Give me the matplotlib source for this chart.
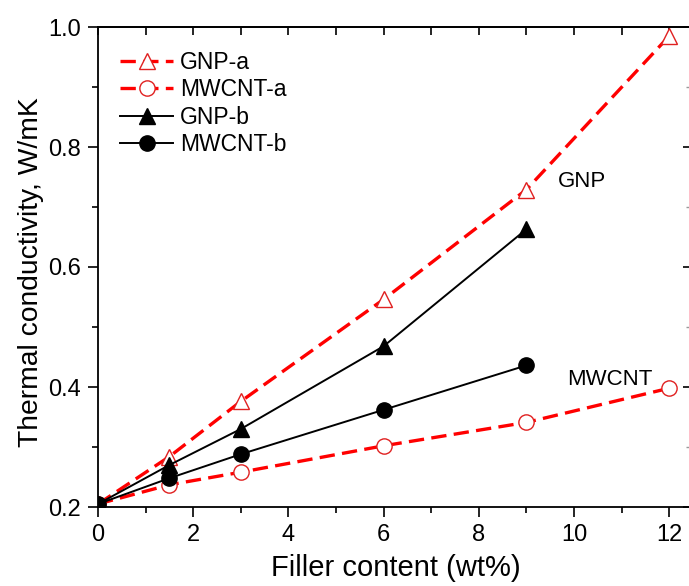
import matplotlib
matplotlib.use("Agg")
import matplotlib.pyplot as plt
from matplotlib.ticker import MultipleLocator

plt.rcParams['font.family'] = ['Liberation Sans', 'DejaVu Sans']

x_a = [0, 1.5, 3, 6, 9, 12]
gnp_a = [0.205, 0.284, 0.376, 0.546, 0.729, 0.985]
mwcnt_a = [0.205, 0.237, 0.258, 0.302, 0.341, 0.398]
x_b = [0, 1.5, 3, 6, 9]
gnp_b = [0.205, 0.270, 0.330, 0.468, 0.663]
mwcnt_b = [0.205, 0.248, 0.288, 0.362, 0.436]

fig = plt.figure(figsize=(6.89, 5.86), dpi=100)
ax = fig.add_axes([98/689, 79/586, 596/689, 480/586])

red = '#ff0000'
dash = (0, (4.6, 2.2))
ax.plot(x_a, gnp_a, color=red, ls=dash, lw=2.4, marker='^', ms=12,
        mfc='white', mec='#e02020', mew=1.0, label='GNP-a', zorder=2)
ax.plot(x_a, mwcnt_a, color=red, ls=dash, lw=2.4, marker='o', ms=11,
        mfc='white', mec='#e02020', mew=1.0, label='MWCNT-a', zorder=2)
ax.plot(x_b, gnp_b, color='black', lw=1.4, marker='^', ms=11.5, label='GNP-b', zorder=3)
ax.plot(x_b, mwcnt_b, color='black', lw=1.4, marker='o', ms=11, label='MWCNT-b', zorder=3)

ax.text(10.17, 0.742, 'GNP', fontsize=16, ha='center', va='center')
ax.text(10.76, 0.412, 'MWCNT', fontsize=16, ha='center', va='center')

ax.set_xlim(0, 12.52)
ax.set_ylim(0.2, 1.0)
ax.xaxis.set_major_locator(MultipleLocator(2))
ax.xaxis.set_minor_locator(MultipleLocator(1))
ax.yaxis.set_major_locator(MultipleLocator(0.2))
ax.yaxis.set_minor_locator(MultipleLocator(0.1))
ax.yaxis.set_major_formatter(matplotlib.ticker.FormatStrFormatter('%.1f'))
ax.tick_params(which='both', direction='out', top=False, right=False, width=1.2, labelsize=17)
ax.tick_params(which='major', length=7, pad=5)
ax.tick_params(which='minor', length=4)

# inward ticks on top
ax2 = ax.secondary_xaxis('top')
ax2.xaxis.set_major_locator(MultipleLocator(2))
ax2.xaxis.set_minor_locator(MultipleLocator(1))
ax2.tick_params(which='both', direction='in', length=6, width=1.2, labeltop=False)
ax2.spines['bottom'].set_visible(False)
ax2.spines['top'].set_linewidth(1.3)

# inward ticks on right (spine lies just outside the picture)
tw = ax.twinx()
tw.set_ylim(0.2, 1.0)
tw.yaxis.set_major_locator(MultipleLocator(0.2))
tw.yaxis.set_minor_locator(MultipleLocator(0.1))
tw.tick_params(which='major', direction='in', length=8, width=1.2, labelright=False)
tw.tick_params(which='minor', direction='in', length=6, width=1.0, color='#999999')
for sp in tw.spines.values():
    sp.set_visible(False)
ax.spines['right'].set_visible(False)

for s in ax.spines.values():
    s.set_linewidth(1.3)

ax.set_xlabel('Filler content (wt%)', fontsize=21, labelpad=6)
ax.set_ylabel('Thermal conductivity, W/mK', fontsize=20.3)
ax.yaxis.set_label_coords(-0.09, 0.49)

leg = ax.legend(loc='upper left', frameon=False, fontsize=16.5, handlelength=2.3,
                handletextpad=0.3, labelspacing=0.2, borderaxespad=0.0,
                bbox_to_anchor=(0.022, 0.97))

fig.savefig('out.png', dpi=100)
